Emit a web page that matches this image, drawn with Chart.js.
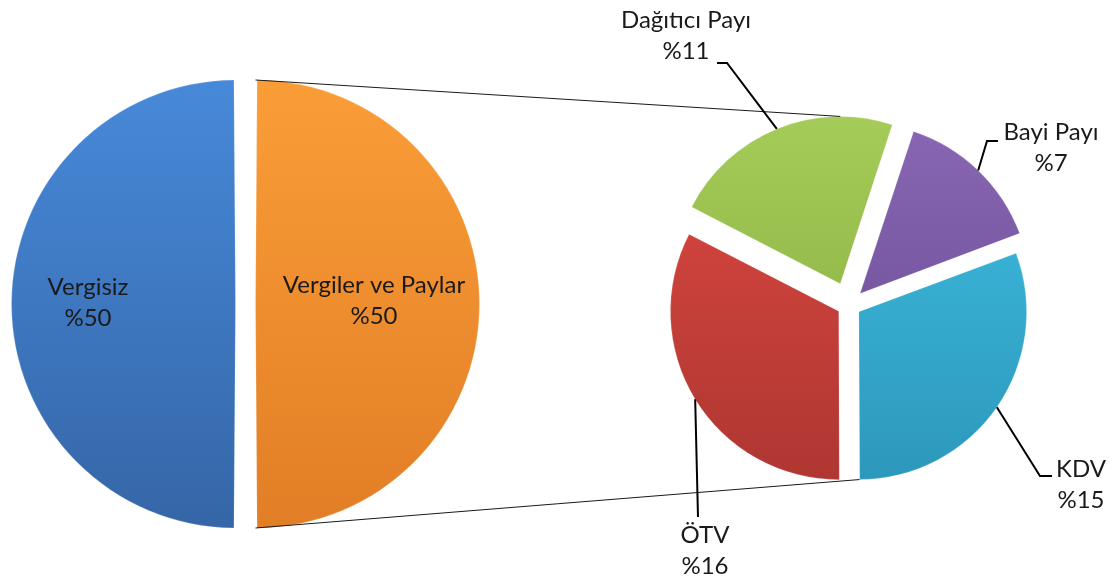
<!DOCTYPE html>
<html><head><meta charset="utf-8">
<script src="https://cdn.jsdelivr.net/npm/chart.js@4.4.1/dist/chart.umd.min.js"></script>
<style>
html,body{margin:0;padding:0;background:#fff;width:1120px;height:587px;overflow:hidden;position:relative}
canvas{position:absolute;display:block}
</style></head><body>
<canvas id="c1" width="491" height="500" style="left:0;top:54px"></canvas>
<canvas id="c2" width="500" height="500" style="left:599px;top:55px"></canvas>
<canvas id="ov" width="1120" height="587" style="left:0;top:0;pointer-events:none"></canvas>
<script>
// ---- data ----
const mainCategories = ['Vergiler ve Paylar', 'Vergisiz'];
const mainValues = [50, 50];
const subCategories = ['Dağıtıcı Payı', 'Bayi Payı', 'KDV', 'ÖTV'];
const subValues = [11, 7, 15, 16];

// ---- styles ----
const mainColors = [['#FA9D37', '#E27E26'], ['#4789D9', '#3566A7']];
const subColors = [['#A5CC58', '#86AB3F'], ['#8866B3', '#684A90'], ['#3EBCE0', '#2C98BB'], ['#DA4840', '#AF3632']];
const FONT = '24px Lato, "Open Sans", sans-serif';
const TEXT = '#1a1a1a';

function grad(pairs, R) {
  return (ctx) => {
    const c = pairs[ctx.dataIndex % pairs.length];
    const a = ctx.chart.chartArea;
    if (!a) return c[0];
    const cy = (a.top + a.bottom) / 2;
    const g = ctx.chart.ctx.createLinearGradient(0, cy - R, 0, cy + R);
    g.addColorStop(0, c[0]);
    g.addColorStop(1, c[1]);
    return g;
  };
}

const common = {
  responsive: false, animation: false, events: [],
  layout: { padding: 0 },
  plugins: { legend: { display: false }, tooltip: { enabled: false } }
};

const mainChart = new Chart(document.getElementById('c1'), {
  type: 'pie',
  data: { labels: mainCategories, datasets: [{
    data: mainValues, backgroundColor: grad(mainColors, 223),
    borderWidth: 1, borderColor: 'rgba(255,255,255,0.18)', offset: 40
  }]},
  options: Object.assign({ radius: 214, rotation: 0 }, common)
});

const subChart = new Chart(document.getElementById('c2'), {
  type: 'pie',
  data: { labels: subCategories, datasets: [{
    data: subValues, backgroundColor: grad(subColors, 168),
    borderWidth: 1, borderColor: 'rgba(255,255,255,0.18)', offset: [92, 64, 48, 48]
  }]},
  options: Object.assign({ radius: 167, rotation: 297.3 }, common)
});

// ---- overlay: connectors, labels, leader lines ----
(function () {
  function geom(chart, el) {
    const cv = chart.canvas;
    const t = (el.options.offset || 0) / 4;
    const mid = (el.startAngle + el.endAngle) / 2;
    const circ = el.endAngle - el.startAngle;
    const fix = 1 - Math.sin(Math.min(Math.PI, circ));
    return {
      cx: cv.offsetLeft + el.x + Math.cos(mid) * t,
      cy: cv.offsetTop + el.y + Math.sin(mid) * t,
      r: el.outerRadius + t * fix,
      s: el.startAngle, e: el.endAngle, mid
    };
  }
  function pt(g, a) { return [g.cx + Math.cos(a) * g.r, g.cy + Math.sin(a) * g.r]; }
  function norm(a) { const T = Math.PI * 2; return ((a % T) + T) % T; }

  const ov = document.getElementById('ov').getContext('2d');
  const mainEls = mainChart.getDatasetMeta(0).data.map(el => geom(mainChart, el));
  const subEls = subChart.getDatasetMeta(0).data.map(el => geom(subChart, el));

  const angTop = -Math.PI / 2, angBottom = Math.PI / 2;
  const splitG = mainEls[0];
  const p1 = [splitG.cx, splitG.cy - splitG.r];
  const p2 = [splitG.cx, splitG.cy + splitG.r];
  const topSlice = subEls.find(g => norm(g.s - angTop) > norm(g.e - angTop)) || subEls[0];
  const dist = a => Math.abs(norm(a - angBottom + Math.PI) - Math.PI);
  const botSlice = subEls.reduce((b, g) => dist(g.e) < dist(b.e) ? g : b);
  const q1 = pt(topSlice, angTop);
  const q2 = pt(botSlice, botSlice.e);
  ov.strokeStyle = '#1a1a1a';
  ov.lineWidth = 1;
  ov.beginPath();
  ov.moveTo(p1[0], p1[1]); ov.lineTo(q1[0], q1[1]);
  ov.moveTo(p2[0], p2[1]); ov.lineTo(q2[0], q2[1]);
  ov.stroke();

  ov.font = FONT;
  ov.fillStyle = TEXT;
  ov.textAlign = 'center';
  ov.textBaseline = 'alphabetic';
  const mainLabelPos = [[374, 293], [88, 295]];
  mainCategories.forEach((c, i) => {
    const [x, y] = mainLabelPos[i];
    ov.fillText(c, x, y);
    ov.fillText('%' + mainValues[i], x, y + 31);
  });

  const subLabelPos = [[686, 28], [1051, 140], [1081, 477], [705, 543]];
  const subElbow = [[727, 63, 717], [987, 141, 998], [1040, 476, 1052], [698, 517, 698]];
  subCategories.forEach((c, i) => {
    const [x, y] = subLabelPos[i];
    ov.fillText(c, x, y);
    ov.fillText('%' + subValues[i], x, y + 31);
    const g = subEls[i];
    const a = pt(g, g.mid);
    const [ex, ey, hx] = subElbow[i];
    ov.strokeStyle = '#000';
    ov.lineWidth = 2;
    ov.beginPath();
    ov.moveTo(a[0], a[1]);
    ov.lineTo(ex, ey);
    ov.lineTo(hx, ey);
    ov.stroke();
  });
})();
</script>
</body></html>
